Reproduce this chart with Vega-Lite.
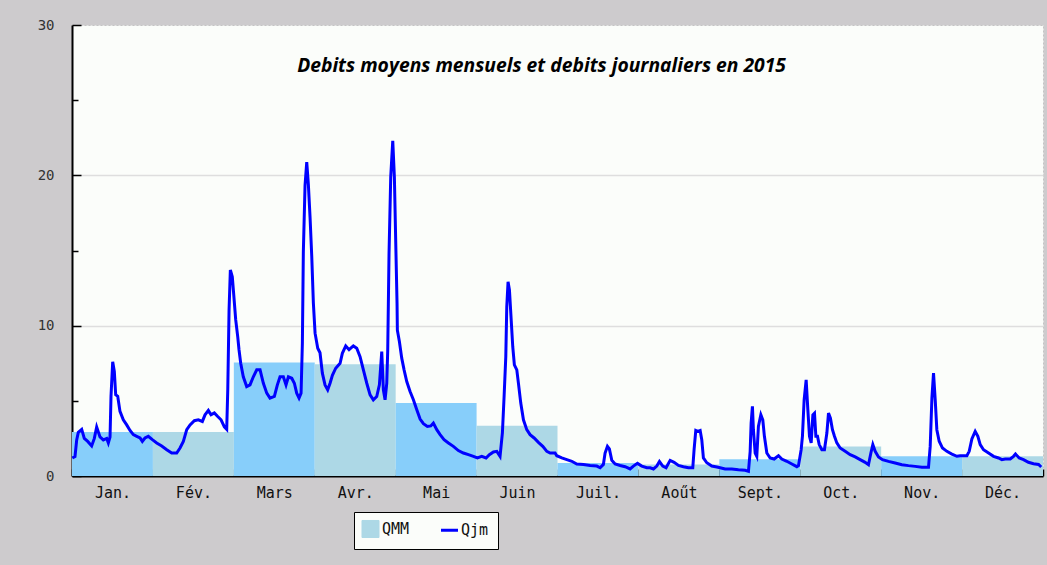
{
  "$schema": "https://vega.github.io/schema/vega-lite/v6.json",
  "width": 971,
  "height": 451,
  "autosize": {"type": "none"},
  "padding": {"left": 72, "top": 25, "right": 4, "bottom": 89},
  "background": "#cdcbcd",
  "title": {
    "text": "Debits moyens mensuels et debits journaliers en 2015",
    "anchor": "middle",
    "offset": -73,
    "dx": -16,
    "baseline": "alphabetic",
    "font": "Open Sans",
    "fontStyle": "italic",
    "fontWeight": "bold",
    "fontSize": 19.3,
    "color": "#000000"
  },
  "config": {
    "view": {"fill": "#fbfdfa", "stroke": "#c4c4c4", "strokeDash": [2, 2]}
  },
  "datasets": {
    "qmm": [
      {"m": 0, "m2": 1, "qmm": 2.93, "shade": "a"},
      {"m": 1, "m2": 2, "qmm": 2.93, "shade": "b"},
      {"m": 2, "m2": 3, "qmm": 7.55, "shade": "a"},
      {"m": 3, "m2": 4, "qmm": 7.44, "shade": "b"},
      {"m": 4, "m2": 5, "qmm": 4.85, "shade": "a"},
      {"m": 5, "m2": 6, "qmm": 3.35, "shade": "b"},
      {"m": 6, "m2": 7, "qmm": 0.87, "shade": "a"},
      {"m": 7, "m2": 8, "qmm": 0.76, "shade": "b"},
      {"m": 8, "m2": 9, "qmm": 1.11, "shade": "a"},
      {"m": 9, "m2": 10, "qmm": 1.97, "shade": "b"},
      {"m": 10, "m2": 11, "qmm": 1.31, "shade": "a"},
      {"m": 11, "m2": 12, "qmm": 1.31, "shade": "b"}
    ],
    "qjm": [
      {"t": 0.004, "q": 1.2}, {"t": 0.037, "q": 1.3}, {"t": 0.058, "q": 2.4}, {"t": 0.078, "q": 2.9},
      {"t": 0.12, "q": 3.1}, {"t": 0.152, "q": 2.5}, {"t": 0.194, "q": 2.3}, {"t": 0.243, "q": 2.0},
      {"t": 0.276, "q": 2.5}, {"t": 0.305, "q": 3.26}, {"t": 0.346, "q": 2.6}, {"t": 0.387, "q": 2.4},
      {"t": 0.429, "q": 2.5}, {"t": 0.449, "q": 2.2}, {"t": 0.47, "q": 2.6}, {"t": 0.482, "q": 5.3},
      {"t": 0.503, "q": 7.6}, {"t": 0.523, "q": 6.95}, {"t": 0.54, "q": 5.4}, {"t": 0.565, "q": 5.3},
      {"t": 0.593, "q": 4.3}, {"t": 0.634, "q": 3.74}, {"t": 0.676, "q": 3.4}, {"t": 0.717, "q": 3.03},
      {"t": 0.758, "q": 2.75}, {"t": 0.8, "q": 2.64}, {"t": 0.841, "q": 2.53}, {"t": 0.869, "q": 2.3},
      {"t": 0.902, "q": 2.53}, {"t": 0.943, "q": 2.64}, {"t": 0.993, "q": 2.42},
      {"t": 1.047, "q": 2.2}, {"t": 1.109, "q": 2.0}, {"t": 1.171, "q": 1.75}, {"t": 1.232, "q": 1.53},
      {"t": 1.294, "q": 1.53}, {"t": 1.335, "q": 1.86}, {"t": 1.376, "q": 2.3}, {"t": 1.418, "q": 3.08},
      {"t": 1.459, "q": 3.4}, {"t": 1.512, "q": 3.68}, {"t": 1.561, "q": 3.74}, {"t": 1.611, "q": 3.63},
      {"t": 1.644, "q": 4.07}, {"t": 1.685, "q": 4.36}, {"t": 1.718, "q": 4.07}, {"t": 1.759, "q": 4.2},
      {"t": 1.801, "q": 3.96}, {"t": 1.842, "q": 3.74}, {"t": 1.883, "q": 3.26}, {"t": 1.912, "q": 3.1},
      {"t": 1.925, "q": 5.73}, {"t": 1.941, "q": 11.04}, {"t": 1.957, "q": 13.7}, {"t": 1.981, "q": 13.26},
      {"t": 1.999, "q": 12.05}, {"t": 2.023, "q": 10.4}, {"t": 2.048, "q": 9.27}, {"t": 2.064, "q": 8.4},
      {"t": 2.085, "q": 7.5}, {"t": 2.117, "q": 6.6}, {"t": 2.159, "q": 5.95}, {"t": 2.2, "q": 6.06},
      {"t": 2.241, "q": 6.6}, {"t": 2.283, "q": 7.06}, {"t": 2.324, "q": 7.06}, {"t": 2.365, "q": 6.17},
      {"t": 2.407, "q": 5.51}, {"t": 2.447, "q": 5.18}, {"t": 2.501, "q": 5.29}, {"t": 2.538, "q": 6.06},
      {"t": 2.571, "q": 6.6}, {"t": 2.612, "q": 6.6}, {"t": 2.645, "q": 6.06}, {"t": 2.674, "q": 6.6},
      {"t": 2.716, "q": 6.5}, {"t": 2.748, "q": 6.17}, {"t": 2.777, "q": 5.51}, {"t": 2.806, "q": 5.18},
      {"t": 2.831, "q": 5.51}, {"t": 2.847, "q": 8.83}, {"t": 2.859, "q": 14.9}, {"t": 2.88, "q": 19.34},
      {"t": 2.901, "q": 20.88}, {"t": 2.921, "q": 19.4}, {"t": 2.942, "q": 17.2}, {"t": 2.963, "q": 14.6},
      {"t": 2.983, "q": 11.5}, {"t": 3.004, "q": 9.5}, {"t": 3.037, "q": 8.5}, {"t": 3.065, "q": 8.2},
      {"t": 3.094, "q": 6.84}, {"t": 3.127, "q": 6.06}, {"t": 3.16, "q": 5.73}, {"t": 3.189, "q": 6.17},
      {"t": 3.218, "q": 6.7}, {"t": 3.259, "q": 7.17}, {"t": 3.313, "q": 7.5}, {"t": 3.341, "q": 8.16},
      {"t": 3.383, "q": 8.65}, {"t": 3.424, "q": 8.4}, {"t": 3.477, "q": 8.65}, {"t": 3.519, "q": 8.5},
      {"t": 3.56, "q": 7.94}, {"t": 3.601, "q": 7.06}, {"t": 3.643, "q": 6.17}, {"t": 3.684, "q": 5.4},
      {"t": 3.724, "q": 5.07}, {"t": 3.766, "q": 5.29}, {"t": 3.799, "q": 6.06}, {"t": 3.828, "q": 8.27},
      {"t": 3.848, "q": 5.73}, {"t": 3.869, "q": 5.07}, {"t": 3.89, "q": 6.17}, {"t": 3.902, "q": 8.4},
      {"t": 3.918, "q": 14.8}, {"t": 3.939, "q": 19.9}, {"t": 3.964, "q": 22.3}, {"t": 3.984, "q": 19.9},
      {"t": 4.001, "q": 15.5}, {"t": 4.017, "q": 11.5}, {"t": 4.021, "q": 9.7}, {"t": 4.046, "q": 8.95},
      {"t": 4.075, "q": 7.84}, {"t": 4.104, "q": 7.06}, {"t": 4.137, "q": 6.28}, {"t": 4.178, "q": 5.62},
      {"t": 4.219, "q": 5.07}, {"t": 4.261, "q": 4.4}, {"t": 4.302, "q": 3.79}, {"t": 4.343, "q": 3.48},
      {"t": 4.392, "q": 3.3}, {"t": 4.434, "q": 3.33}, {"t": 4.466, "q": 3.52}, {"t": 4.508, "q": 3.08},
      {"t": 4.549, "q": 2.75}, {"t": 4.598, "q": 2.42}, {"t": 4.652, "q": 2.2}, {"t": 4.713, "q": 1.97},
      {"t": 4.775, "q": 1.69}, {"t": 4.837, "q": 1.53}, {"t": 4.899, "q": 1.42}, {"t": 4.961, "q": 1.31},
      {"t": 5.01, "q": 1.2}, {"t": 5.064, "q": 1.31}, {"t": 5.117, "q": 1.2}, {"t": 5.158, "q": 1.42},
      {"t": 5.208, "q": 1.6}, {"t": 5.25, "q": 1.64}, {"t": 5.29, "q": 1.31}, {"t": 5.319, "q": 2.86},
      {"t": 5.34, "q": 5.29}, {"t": 5.361, "q": 7.94}, {"t": 5.373, "q": 11.26}, {"t": 5.389, "q": 12.92},
      {"t": 5.406, "q": 12.37}, {"t": 5.423, "q": 10.82}, {"t": 5.447, "q": 8.6}, {"t": 5.467, "q": 7.39},
      {"t": 5.497, "q": 7.06}, {"t": 5.517, "q": 6.18}, {"t": 5.546, "q": 4.85}, {"t": 5.579, "q": 3.74},
      {"t": 5.62, "q": 3.08}, {"t": 5.661, "q": 2.75}, {"t": 5.711, "q": 2.53}, {"t": 5.764, "q": 2.24},
      {"t": 5.818, "q": 1.97}, {"t": 5.868, "q": 1.64}, {"t": 5.909, "q": 1.53}, {"t": 5.97, "q": 1.53},
      {"t": 5.991, "q": 1.35}, {"t": 6.053, "q": 1.2}, {"t": 6.115, "q": 1.09}, {"t": 6.177, "q": 0.98},
      {"t": 6.238, "q": 0.8}, {"t": 6.32, "q": 0.77}, {"t": 6.403, "q": 0.7}, {"t": 6.486, "q": 0.66},
      {"t": 6.527, "q": 0.55}, {"t": 6.567, "q": 0.77}, {"t": 6.588, "q": 1.53}, {"t": 6.617, "q": 1.97},
      {"t": 6.641, "q": 1.8}, {"t": 6.671, "q": 1.04}, {"t": 6.712, "q": 0.8}, {"t": 6.774, "q": 0.7},
      {"t": 6.836, "q": 0.62}, {"t": 6.897, "q": 0.47}, {"t": 6.938, "q": 0.66}, {"t": 6.988, "q": 0.84},
      {"t": 7.042, "q": 0.66}, {"t": 7.104, "q": 0.55}, {"t": 7.145, "q": 0.55}, {"t": 7.186, "q": 0.47},
      {"t": 7.227, "q": 0.66}, {"t": 7.26, "q": 0.96}, {"t": 7.301, "q": 0.66}, {"t": 7.342, "q": 0.55},
      {"t": 7.392, "q": 1.04}, {"t": 7.441, "q": 0.91}, {"t": 7.495, "q": 0.7}, {"t": 7.556, "q": 0.62},
      {"t": 7.618, "q": 0.55}, {"t": 7.672, "q": 0.55}, {"t": 7.688, "q": 1.75}, {"t": 7.709, "q": 3.03},
      {"t": 7.734, "q": 2.97}, {"t": 7.763, "q": 3.03}, {"t": 7.783, "q": 2.42}, {"t": 7.803, "q": 1.2},
      {"t": 7.845, "q": 0.88}, {"t": 7.907, "q": 0.66}, {"t": 7.969, "q": 0.6}, {"t": 8.01, "q": 0.55},
      {"t": 8.072, "q": 0.47}, {"t": 8.154, "q": 0.47}, {"t": 8.236, "q": 0.42}, {"t": 8.319, "q": 0.38},
      {"t": 8.36, "q": 0.31}, {"t": 8.381, "q": 1.64}, {"t": 8.393, "q": 3.52}, {"t": 8.409, "q": 4.63},
      {"t": 8.421, "q": 3.08}, {"t": 8.443, "q": 1.53}, {"t": 8.463, "q": 1.31}, {"t": 8.483, "q": 3.3},
      {"t": 8.513, "q": 4.07}, {"t": 8.537, "q": 3.74}, {"t": 8.557, "q": 2.64}, {"t": 8.587, "q": 1.53},
      {"t": 8.628, "q": 1.2}, {"t": 8.677, "q": 1.13}, {"t": 8.731, "q": 1.35}, {"t": 8.772, "q": 1.13},
      {"t": 8.834, "q": 0.98}, {"t": 8.896, "q": 0.8}, {"t": 8.958, "q": 0.62}, {"t": 8.978, "q": 0.69},
      {"t": 9.011, "q": 1.75}, {"t": 9.027, "q": 2.64}, {"t": 9.048, "q": 5.07}, {"t": 9.073, "q": 6.4},
      {"t": 9.094, "q": 4.4}, {"t": 9.114, "q": 2.64}, {"t": 9.135, "q": 2.2}, {"t": 9.156, "q": 4.07},
      {"t": 9.176, "q": 4.18}, {"t": 9.193, "q": 2.64}, {"t": 9.213, "q": 2.64}, {"t": 9.234, "q": 2.09},
      {"t": 9.267, "q": 1.75}, {"t": 9.299, "q": 1.75}, {"t": 9.329, "q": 2.86}, {"t": 9.349, "q": 4.18},
      {"t": 9.373, "q": 3.85}, {"t": 9.398, "q": 3.08}, {"t": 9.423, "q": 2.64}, {"t": 9.452, "q": 2.2},
      {"t": 9.493, "q": 1.86}, {"t": 9.555, "q": 1.64}, {"t": 9.617, "q": 1.42}, {"t": 9.679, "q": 1.27},
      {"t": 9.74, "q": 1.09}, {"t": 9.802, "q": 0.91}, {"t": 9.843, "q": 0.75}, {"t": 9.873, "q": 1.53},
      {"t": 9.897, "q": 2.09}, {"t": 9.926, "q": 1.64}, {"t": 9.967, "q": 1.27}, {"t": 10.016, "q": 1.09},
      {"t": 10.09, "q": 0.97}, {"t": 10.173, "q": 0.86}, {"t": 10.256, "q": 0.75}, {"t": 10.337, "q": 0.69},
      {"t": 10.42, "q": 0.64}, {"t": 10.503, "q": 0.58}, {"t": 10.585, "q": 0.58}, {"t": 10.606, "q": 1.97},
      {"t": 10.627, "q": 5.18}, {"t": 10.647, "q": 6.84}, {"t": 10.668, "q": 5.07}, {"t": 10.688, "q": 3.08},
      {"t": 10.717, "q": 2.31}, {"t": 10.758, "q": 1.86}, {"t": 10.812, "q": 1.64}, {"t": 10.874, "q": 1.46},
      {"t": 10.936, "q": 1.31}, {"t": 10.977, "q": 1.35}, {"t": 11.059, "q": 1.35}, {"t": 11.088, "q": 1.64},
      {"t": 11.121, "q": 2.46}, {"t": 11.162, "q": 2.97}, {"t": 11.195, "q": 2.64}, {"t": 11.224, "q": 2.09},
      {"t": 11.265, "q": 1.75}, {"t": 11.327, "q": 1.53}, {"t": 11.389, "q": 1.31}, {"t": 11.45, "q": 1.2},
      {"t": 11.492, "q": 1.09}, {"t": 11.533, "q": 1.13}, {"t": 11.595, "q": 1.13}, {"t": 11.636, "q": 1.31},
      {"t": 11.66, "q": 1.46}, {"t": 11.706, "q": 1.2}, {"t": 11.759, "q": 1.09}, {"t": 11.82, "q": 0.91},
      {"t": 11.883, "q": 0.82}, {"t": 11.945, "q": 0.77}, {"t": 11.978, "q": 0.6}
    ]
  },
  "layer": [
    {
      "data": {"name": "qmm"},
      "mark": {"type": "rect"},
      "encoding": {
        "x": {
          "field": "m",
          "type": "quantitative",
          "scale": {"domain": [0, 12], "nice": false, "zero": false},
          "axis": {
            "title": null,
            "values": [0, 1, 2, 3, 4, 5, 6, 7, 8, 9, 10, 11, 12],
            "labelExpr": "['Jan.','Fév.','Mars','Avr.','Mai','Juin','Juil.','Aoűt','Sept.','Oct.','Nov.','Déc.',''][datum.value]",
            "labelOffset": 40.5,
            "labelAlign": "center",
            "labelBound": false,
            "labelFlush": false,
            "labelOverlap": false,
            "labelFont": "DejaVu Sans Mono",
            "labelFontSize": 15,
            "labelColor": "#111111",
            "labelPadding": 16,
            "tickSize": -7,
            "tickColor": "#000000",
            "tickWidth": 1.5,
            "domainColor": "#000000",
            "domainWidth": 2,
            "grid": false
          }
        },
        "x2": {"field": "m2"},
        "y": {
          "field": "qmm",
          "type": "quantitative",
          "scale": {"domain": [0, 30], "nice": false},
          "axis": {
            "title": null,
            "values": [0, 5, 10, 15, 20, 25, 30],
            "labelExpr": "datum.value % 10 === 0 ? datum.label : ''",
            "labelFont": "DejaVu Sans Mono",
            "labelFontSize": 14,
            "labelColor": "#333333",
            "labelPadding": 27,
            "tickSize": {"condition": {"test": "datum.value % 10 === 0", "value": -9}, "value": -6},
            "tickColor": "#000000",
            "tickWidth": 1.5,
            "domainColor": "#000000",
            "domainWidth": 2,
            "grid": true,
            "gridColor": {"condition": {"test": "datum.value % 10 === 0 && datum.value > 0 && datum.value < 30", "value": "#dedede"}, "value": "transparent"},
            "gridWidth": 1.5
          }
        },
        "y2": {"datum": 0},
        "fill": {
          "field": "shade",
          "type": "nominal",
          "scale": {"domain": ["a", "b"], "range": ["#87cefa", "#add8e6"]},
          "legend": null
        }
      }
    },
    {
      "data": {"name": "qjm"},
      "mark": {"type": "line", "strokeWidth": 3},
      "encoding": {
        "x": {"field": "t", "type": "quantitative"},
        "y": {"field": "q", "type": "quantitative"},
        "stroke": {
          "datum": "Qjm",
          "type": "nominal",
          "scale": {"domain": ["QMM", "Qjm"], "range": ["#add8e6", "#0000ff"]},
          "legend": {
            "title": null,
            "orient": "none",
            "legendX": 282,
            "legendY": 487,
            "direction": "horizontal",
            "fillColor": "#fbfdfa",
            "strokeColor": "#000000",
            "padding": 9,
            "columnPadding": 24,
            "labelFont": "DejaVu Sans Mono",
            "labelFontSize": 15,
            "labelColor": "#111111",
            "symbolSize": 290,
            "encode": {
              "symbols": {
                "update": {
                  "shape": {"signal": "datum.value === 'QMM' ? 'square' : 'stroke'"},
                  "fill": {"signal": "datum.value === 'QMM' ? '#add8e6' : 'transparent'"},
                  "stroke": {"signal": "datum.value === 'QMM' ? '#333333' : '#0000ff'"},
                  "strokeWidth": {"signal": "datum.value === 'QMM' ? 1 : 3"}
                }
              }
            }
          }
        }
      }
    }
  ]
}
